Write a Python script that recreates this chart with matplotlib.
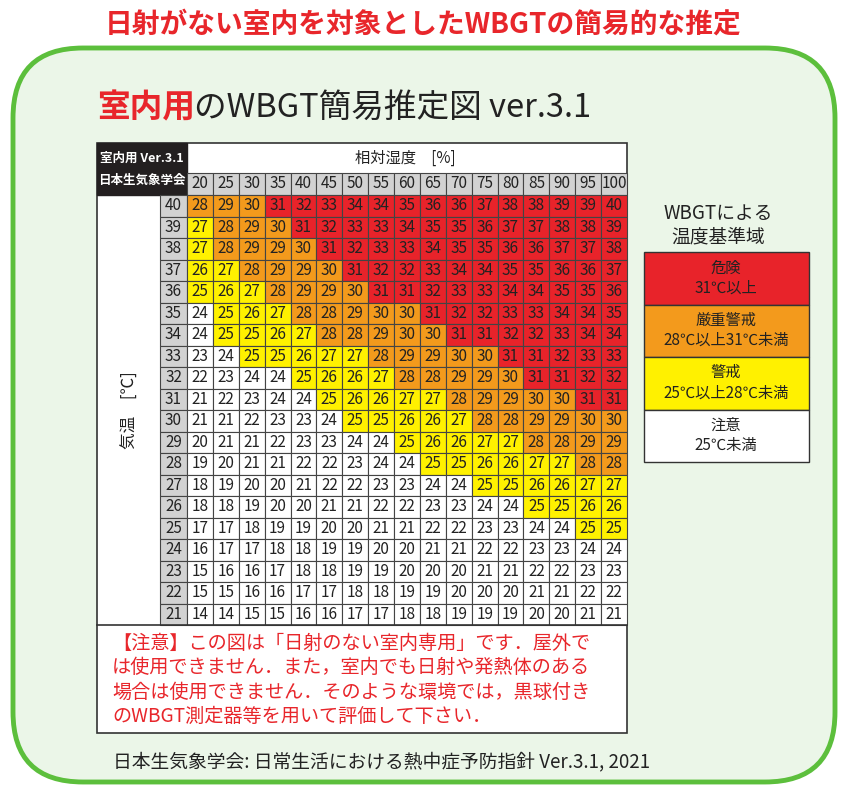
import matplotlib
matplotlib.use("Agg")
import matplotlib.pyplot as plt
from matplotlib.patches import Rectangle, FancyBboxPatch

plt.rcParams['font.family'] = ['Noto Sans CJK JP', 'DejaVu Sans']

humidity = [20, 25, 30, 35, 40, 45, 50, 55, 60, 65, 70, 75, 80, 85, 90, 95, 100]
temps = list(range(40, 20, -1))
wbgt = [
    [28, 29, 30, 31, 32, 33, 34, 34, 35, 36, 36, 37, 38, 38, 39, 39, 40],
    [27, 28, 29, 30, 31, 32, 33, 33, 34, 35, 35, 36, 37, 37, 38, 38, 39],
    [27, 28, 29, 29, 30, 31, 32, 33, 33, 34, 35, 35, 36, 36, 37, 37, 38],
    [26, 27, 28, 29, 29, 30, 31, 32, 32, 33, 34, 34, 35, 35, 36, 36, 37],
    [25, 26, 27, 28, 29, 29, 30, 31, 31, 32, 33, 33, 34, 34, 35, 35, 36],
    [24, 25, 26, 27, 28, 28, 29, 30, 30, 31, 32, 32, 33, 33, 34, 34, 35],
    [24, 25, 25, 26, 27, 28, 28, 29, 30, 30, 31, 31, 32, 32, 33, 34, 34],
    [23, 24, 25, 25, 26, 27, 27, 28, 29, 29, 30, 30, 31, 31, 32, 33, 33],
    [22, 23, 24, 24, 25, 26, 26, 27, 28, 28, 29, 29, 30, 31, 31, 32, 32],
    [21, 22, 23, 24, 24, 25, 26, 26, 27, 27, 28, 29, 29, 30, 30, 31, 31],
    [21, 21, 22, 23, 23, 24, 25, 25, 26, 26, 27, 28, 28, 29, 29, 30, 30],
    [20, 21, 21, 22, 23, 23, 24, 24, 25, 26, 26, 27, 27, 28, 28, 29, 29],
    [19, 20, 21, 21, 22, 22, 23, 24, 24, 25, 25, 26, 26, 27, 27, 28, 28],
    [18, 19, 20, 20, 21, 22, 22, 23, 23, 24, 24, 25, 25, 26, 26, 27, 27],
    [18, 18, 19, 20, 20, 21, 21, 22, 22, 23, 23, 24, 24, 25, 25, 26, 26],
    [17, 17, 18, 19, 19, 20, 20, 21, 21, 22, 22, 23, 23, 24, 24, 25, 25],
    [16, 17, 17, 18, 18, 19, 19, 20, 20, 21, 21, 22, 22, 23, 23, 24, 24],
    [15, 16, 16, 17, 18, 18, 19, 19, 20, 20, 20, 21, 21, 22, 22, 23, 23],
    [15, 15, 16, 16, 17, 17, 18, 18, 19, 19, 20, 20, 20, 21, 21, 22, 22],
    [14, 14, 15, 15, 16, 16, 17, 17, 18, 18, 19, 19, 19, 20, 20, 21, 21],
]
levels = ["危険\n31℃以上", "厳重警戒\n28℃以上31℃未満", "警戒\n25℃以上28℃未満", "注意\n25℃未満"]
note_lines = ["【注意】この図は「日射のない室内専用」です．屋外で",
              "は使用できません．また，室内でも日射や発熱体のある",
              "場合は使用できません．そのような環境では，黒球付き",
              "のWBGT測定器等を用いて評価して下さい．"]

RED, ORANGE, YELLOW, WHITE = "#e8232a", "#f39a1c", "#fff100", "#ffffff"
GRAY = "#d2d2d2"

def colour(v):
    if v >= 31:
        return RED
    if v >= 28:
        return ORANGE
    if v >= 25:
        return YELLOW
    return WHITE

fig = plt.figure(figsize=(8.47, 7.96), dpi=100)
ax = fig.add_axes([0, 0, 1, 1])
ax.set_xlim(0, 847)
ax.set_ylim(796, 0)
ax.axis("off")

ax.text(423, 25, "日射がない室内を対象としたWBGTの簡易的な推定", color="#e8262b",
        fontsize=20, fontweight="bold", ha="center", va="center")
ax.add_patch(FancyBboxPatch((13, 48), 822, 734, boxstyle="round,pad=0,rounding_size=70",
                            fc="#ebf6e8", ec="#5cbf3c", lw=3.5))

ax.text(97, 108, "室内用", color="#e8262b", fontsize=23.5, fontweight="bold", va="center")
ax.text(194, 108, "のWBGT簡易推定図 ver.3.1", color="#222222", fontsize=23.5, va="center")

# table geometry
x0, x1 = 97, 627
cx0 = 187
cw = (x1 - cx0) / len(humidity)
ry0 = 195
rh = 21.5
ax.add_patch(Rectangle((x0, 143), x1 - x0, 590, fc="white", ec="#333333", lw=1.2))
ax.add_patch(Rectangle((x0, 143), cx0 - x0, 52, fc="#231f20", ec="#231f20"))
ax.text(142, 158, "室内用 Ver.3.1", color="white", fontsize=9, fontweight="bold", ha="center", va="center")
ax.text(142, 180, "日本生気象学会", color="white", fontsize=9, fontweight="bold", ha="center", va="center")
ax.text(405, 158, "相対湿度　[%]", fontsize=11, ha="center", va="center", color="#222222")

for j, h in enumerate(humidity):
    ax.add_patch(Rectangle((cx0 + j * cw, 173), cw, 22, fc=GRAY, ec="#444444", lw=0.8))
    ax.text(cx0 + (j + 0.5) * cw, 184, str(h), fontsize=11, ha="center", va="center", color="#222222")

for i, t in enumerate(temps):
    y = ry0 + i * rh
    ax.add_patch(Rectangle((160, y), cx0 - 160, rh, fc=GRAY, ec="#444444", lw=0.8))
    ax.text(173.5, y + rh / 2, str(t), fontsize=11, ha="center", va="center", color="#222222")
    for j, v in enumerate(wbgt[i]):
        ax.add_patch(Rectangle((cx0 + j * cw, y), cw, rh, fc=colour(v), ec="#444444", lw=0.8))
        ax.text(cx0 + (j + 0.5) * cw, y + rh / 2, str(v), fontsize=11, ha="center", va="center", color="#222222")

ax.text(130, 410, "気温　[℃]", fontsize=12, rotation=90, ha="center", va="center", color="#222222")

ty = ry0 + len(temps) * rh
ax.plot([x0, x1], [ty, ty], color="#333333", lw=1.2)
for k, line in enumerate(note_lines):
    ax.text(112, 643 + k * 24.5, line, color="#e8262b", fontsize=13.8, va="center")

# legend
ax.text(718, 213, "WBGTによる", fontsize=13.5, ha="center", va="center", color="#222222")
ax.text(718, 237, "温度基準域", fontsize=13.5, ha="center", va="center", color="#222222")
for k, (lab, c) in enumerate(zip(levels, [RED, ORANGE, YELLOW, WHITE])):
    y = 252 + k * 52.5
    ax.add_patch(Rectangle((644, y), 165, 52.5, fc=c, ec="#333333", lw=1))
    ax.text(726, y + 26, lab, fontsize=11, ha="center", va="center", color="#222222", linespacing=1.25)

ax.text(113, 762, "日本生気象学会: 日常生活における熱中症予防指針 Ver.3.1, 2021",
        fontsize=13.5, va="center", color="#222222")

fig.savefig("out.png", dpi=100)
